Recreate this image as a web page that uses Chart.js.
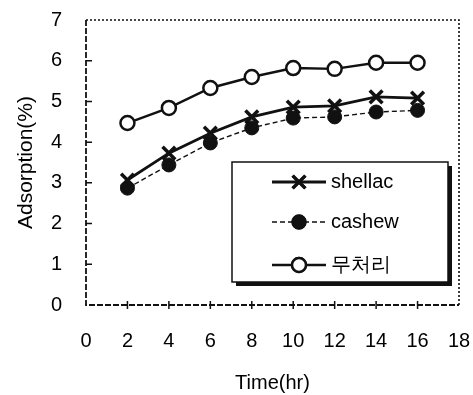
<!DOCTYPE html>
<html>
<head>
<meta charset="utf-8">
<script src="https://cdn.jsdelivr.net/npm/chart.js@4.4.0/dist/chart.umd.min.js"></script>
<style>
  html, body { margin: 0; padding: 0; background: #fff; }
</style>
</head>
<body>
<canvas id="chart" width="473" height="395"></canvas>
<script>
// data
const hours = [2, 4, 6, 8, 10, 12, 14, 16];
const shellac = [3.07, 3.73, 4.22, 4.62, 4.86, 4.89, 5.11, 5.08];
const cashew = [2.87, 3.44, 3.98, 4.35, 4.59, 4.62, 4.74, 4.78];
const untreated = [4.47, 4.84, 5.33, 5.60, 5.82, 5.80, 5.95, 5.95];
const seriesNames = ['shellac', 'cashew', '무처리'];

const FONT = "'Liberation Sans', Arial, sans-serif";
const toPoints = ys => hours.map((h, i) => ({ x: h, y: ys[i] }));

// frame, inward ticks and the boxed legend
const framePlugin = {
  id: 'frame',
  afterDraw(chart) {
    const ctx = chart.ctx;
    const a = chart.chartArea;
    const xs = chart.scales.x, ys = chart.scales.y;
    ctx.save();
    ctx.strokeStyle = '#111';

    // dotted top / right
    ctx.lineWidth = 1.6;
    ctx.setLineDash([2, 2]);
    ctx.beginPath();
    ctx.moveTo(a.left, a.top); ctx.lineTo(a.right, a.top); ctx.lineTo(a.right, a.bottom);
    ctx.stroke();

    // dashed left / bottom axes
    ctx.setLineDash([6, 2]);
    ctx.lineWidth = 1.8;
    ctx.beginPath();
    ctx.moveTo(a.left, a.top); ctx.lineTo(a.left, a.bottom); ctx.lineTo(a.right, a.bottom);
    ctx.stroke();
    ctx.setLineDash([]);

    // tick marks
    ctx.lineWidth = 1.5;
    ctx.beginPath();
    for (let v = 1; v < 7; v++) {
      const py = ys.getPixelForValue(v);
      ctx.moveTo(a.left, py); ctx.lineTo(a.left + 6, py);
    }
    for (let v = 2; v < 18; v += 2) {
      const px = xs.getPixelForValue(v);
      ctx.moveTo(px, a.bottom - 4); ctx.lineTo(px, a.bottom + 4);
    }
    ctx.stroke();

    // legend box with shadow
    const bx = 232, by = 162, bw = 216, bh = 120;
    ctx.fillStyle = '#111';
    ctx.fillRect(bx + 4, by + 4, bw, bh);
    ctx.fillStyle = '#fff';
    ctx.fillRect(bx, by, bw, bh);
    ctx.lineWidth = 1.5;
    ctx.strokeRect(bx, by, bw, bh);

    const rows = [182, 222, 265];
    ctx.font = '20px ' + FONT;
    ctx.textBaseline = 'middle';
    chart.data.datasets.forEach((ds, i) => {
      const y = rows[i];
      ctx.strokeStyle = '#111';
      ctx.lineWidth = ds.borderWidth;
      ctx.setLineDash(ds.borderDash || []);
      ctx.beginPath();
      ctx.moveTo(272, y); ctx.lineTo(326, y);
      ctx.stroke();
      ctx.setLineDash([]);
      Chart.helpers.drawPoint(ctx, {
        pointStyle: ds.pointStyle,
        radius: ds.pointRadius,
        borderWidth: ds.pointBorderWidth
      }, 299, y);
      ctx.fillStyle = ds.pointBackgroundColor;
      ctx.strokeStyle = '#111';
      ctx.lineWidth = ds.pointBorderWidth;
      ctx.fill();
      ctx.stroke();
      ctx.fillStyle = '#000';
      ctx.fillText(ds.label, 331, y);
    });
    ctx.restore();
  }
};

new Chart(document.getElementById('chart'), {
  type: 'line',
  data: {
    datasets: [
      {
        label: seriesNames[0],
        data: toPoints(shellac),
        borderColor: '#111',
        borderWidth: 2.8,
        pointStyle: 'crossRot',
        pointRadius: 9,
        pointBorderWidth: 3.5,
        pointBorderColor: '#111',
        pointBackgroundColor: '#111'
      },
      {
        label: seriesNames[1],
        data: toPoints(cashew),
        borderColor: '#111',
        borderWidth: 1.4,
        borderDash: [5, 3],
        pointStyle: 'circle',
        pointRadius: 7,
        pointBorderWidth: 1,
        pointBorderColor: '#111',
        pointBackgroundColor: '#111'
      },
      {
        label: seriesNames[2],
        data: toPoints(untreated),
        borderColor: '#111',
        borderWidth: 2.4,
        pointStyle: 'circle',
        pointRadius: 7,
        pointBorderWidth: 2.5,
        pointBorderColor: '#111',
        pointBackgroundColor: '#fff'
      }
    ]
  },
  options: {
    responsive: false,
    animation: false,
    layout: { padding: { top: 20, right: 14, bottom: 0, left: 0 } },
    plugins: { legend: { display: false }, tooltip: { enabled: false } },
    scales: {
      x: {
        type: 'linear',
        min: 0, max: 18,
        afterFit: s => { s.height = 90; s.paddingLeft = 0; s.paddingRight = 0; },
        grid: { display: false, drawTicks: false },
        border: { display: false },
        ticks: { stepSize: 2, color: '#000', padding: 24, font: { family: FONT, size: 20 } },
        title: { display: true, text: 'Time(hr)', color: '#000', padding: 0, font: { family: FONT, size: 20 } }
      },
      y: {
        min: 0, max: 7,
        afterFit: s => { s.width = 86; s.paddingTop = 0; s.paddingBottom = 0; },
        grid: { display: false, drawTicks: false },
        border: { display: false },
        ticks: { stepSize: 1, color: '#000', padding: 24, font: { family: FONT, size: 20 } },
        title: { display: true, text: 'Adsorption(%)', color: '#000', padding: { top: 14 }, font: { family: FONT, size: 21 } }
      }
    }
  },
  plugins: [framePlugin]
});
</script>
</body>
</html>
